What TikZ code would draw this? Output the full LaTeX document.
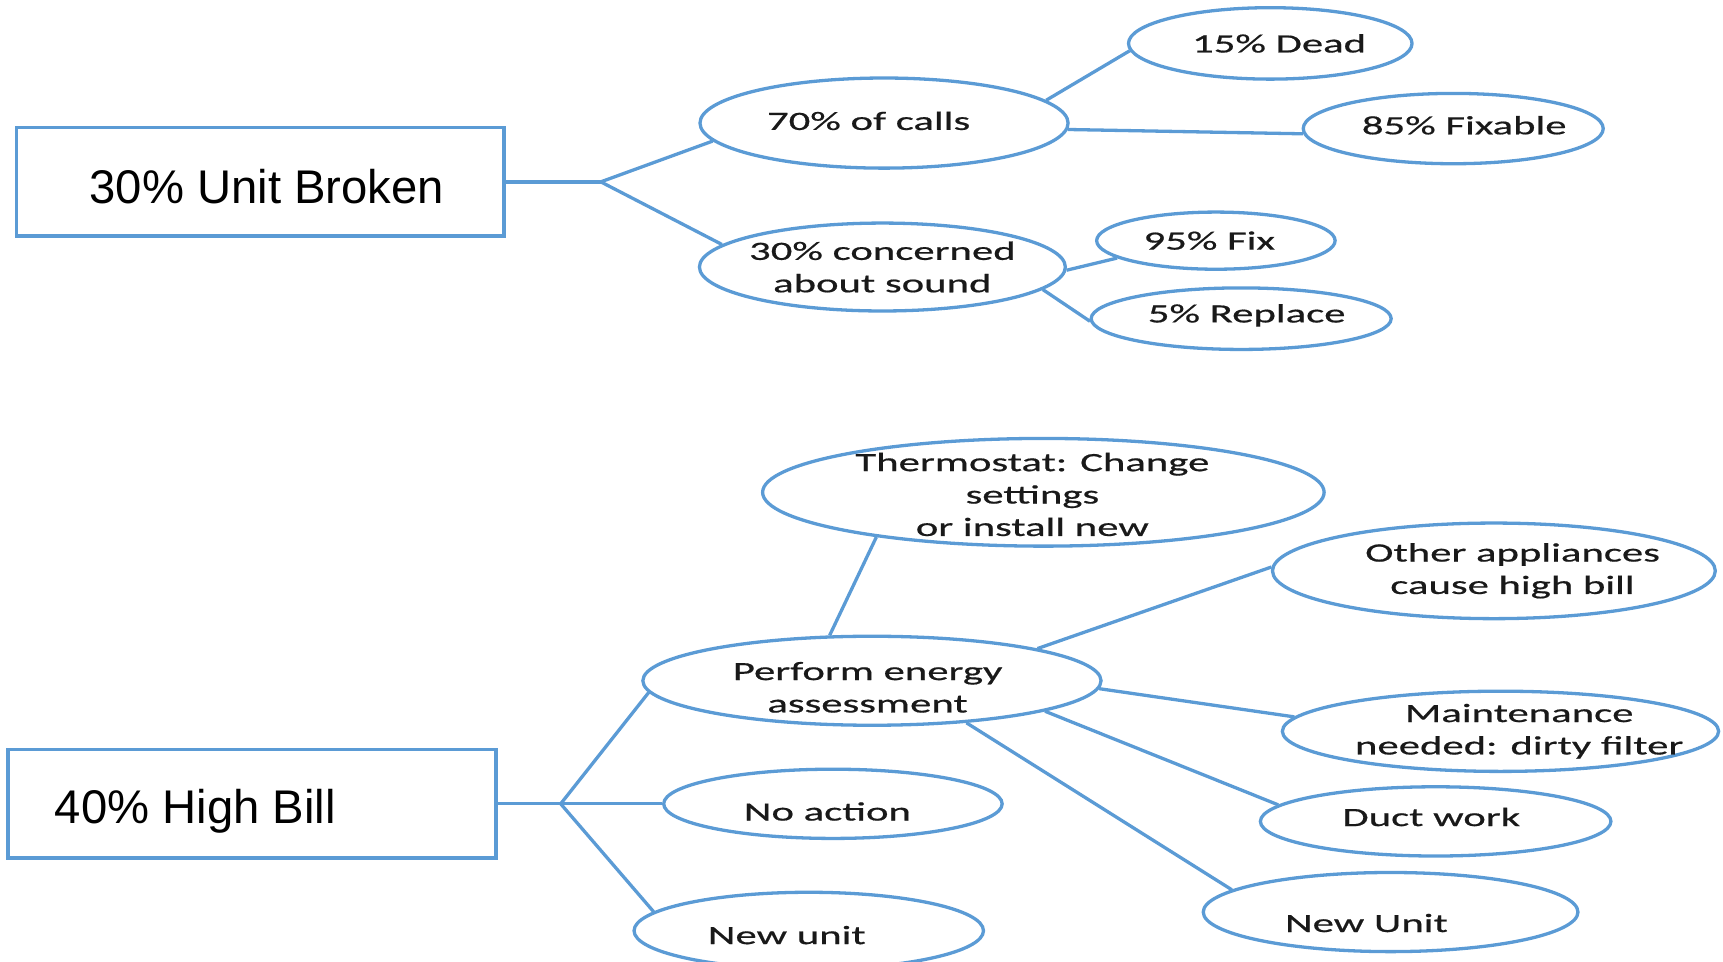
\documentclass[tikz,border=0pt]{standalone}
\usepackage{fontspec}
\setmainfont{Liberation Sans}
\newfontfamily\ovalfont[FakeStretch=1.62,FakeBold=0.6]{Carlito}
\usetikzlibrary{shapes.geometric}
\definecolor{lineblue}{RGB}{91,155,213}
\definecolor{txtgray}{RGB}{25,25,25}
\begin{document}
\begin{tikzpicture}[x=1pt,y=-1pt,
    box/.style={draw=lineblue,line width=3.5pt,rectangle,minimum width=444pt,minimum height=99pt,inner sep=0pt},
    boxtxt/.style={font=\fontsize{43}{50}\selectfont,text=black,text depth=0pt,inner sep=0pt,anchor=west},
    oval/.style={draw=lineblue,line width=3pt,ellipse,inner sep=0pt},
    ovaltxt/.style={font=\ovalfont\fontsize{24}{29.5}\selectfont,text=txtgray,align=center,inner sep=0pt},
    link/.style={draw=lineblue,line width=3pt}]
    \useasboundingbox (0,0) rectangle (1568,875);

    \node[box,label={[boxtxt,xshift=68pt,yshift=-4pt]west:30\% Unit Broken}] (broken) at (237,165.5) {};
    \node[oval,minimum width=335pt,minimum height=82pt,label={[ovaltxt,xshift=-14pt,yshift=2pt]center:70\% of calls}] (calls) at (804.5,112) {};
    \node[oval,minimum width=333pt,minimum height=80pt,label={[ovaltxt]center:{30\% concerned\\about sound}}] (sound) at (803,243) {};
    \node[oval,minimum width=258pt,minimum height=65pt,label={[ovaltxt,xshift=8pt]center:15\% Dead}] (dead) at (1156,39.5) {};
    \node[oval,minimum width=273pt,minimum height=64pt,label={[ovaltxt,xshift=10pt,yshift=3pt]center:85\% Fixable}] (fixable) at (1322.5,117) {};
    \node[oval,minimum width=217pt,minimum height=52pt,label={[ovaltxt,xshift=-6pt]center:95\% Fix}] (fix) at (1106.5,219) {};
    \node[oval,minimum width=273pt,minimum height=56pt,label={[ovaltxt,xshift=5pt,yshift=3pt]center:5\% Replace}] (replace) at (1129.5,290) {};

    \coordinate (fork1) at ([xshift=86pt]broken.east);
    \draw[link] (broken.east) -- (fork1);
    \draw[link] (calls.186) -- (fork1) -- (sound.172);
    \draw[link] (calls.8) -- (dead.183);
    \draw[link] (calls.-2) -- (fixable.182);
    \draw[link] (sound.-1) -- (fix.190);
    \draw[link] (sound.-8) -- (replace.181);

    \node[box,label={[boxtxt,xshift=44pt,yshift=-2pt]west:40\% High Bill}] (bill) at (229.5,731.5) {};
    \node[oval,minimum width=511pt,minimum height=98pt,label={[ovaltxt,xshift=-10pt,yshift=-2pt]center:{Thermostat: Change\\settings\\or install new}}] (thermo) at (949.5,448) {};
    \node[oval,minimum width=417pt,minimum height=81pt,label={[ovaltxt,xshift=-4pt,yshift=-6pt]center:{Perform energy\\assessment}}] (assess) at (793.5,619.5) {};
    \node[oval,minimum width=403pt,minimum height=87pt,label={[ovaltxt,xshift=17pt]center:{Other appliances\\cause high bill}}] (appliances) at (1359.5,519.5) {};
    \node[oval,minimum width=397pt,minimum height=73pt,label={[ovaltxt,xshift=17pt]center:{Maintenance\\needed: dirty filter}}] (filter) at (1365.5,665.5) {};
    \node[oval,minimum width=319pt,minimum height=63pt,label={[ovaltxt,xshift=-4pt,yshift=4pt]center:Duct work}] (duct) at (1306.5,747.5) {};
    \node[oval,minimum width=341pt,minimum height=72pt,label={[ovaltxt,xshift=-22pt,yshift=-10pt]center:New Unit}] (newunitR) at (1265.5,830) {};
    \node[oval,minimum width=308pt,minimum height=63pt,label={[ovaltxt,xshift=-5pt,yshift=-7pt]center:No action}] (noaction) at (758,731.5) {};
    \node[oval,minimum width=318pt,minimum height=70pt,label={[ovaltxt,xshift=-20pt,yshift=-4pt]center:New unit}] (newunitL) at (736,847) {};

    \coordinate (fork2) at ([xshift=57pt]bill.east);
    \draw[link] (bill.east) -- (fork2) -- (noaction.west);
    \draw[link] (assess.183) -- (fork2) -- (newunitL.173);
    \draw[link] (assess.133) -- (thermo.195);
    \draw[link] (assess.11.5) -- (appliances.179);
    \draw[link] (assess.-2.4) -- (filter.176);
    \draw[link] (assess.-10.5) -- (duct.174);
    \draw[link] (assess.-24.5) -- (newunitR.172);
\end{tikzpicture}
\end{document}
